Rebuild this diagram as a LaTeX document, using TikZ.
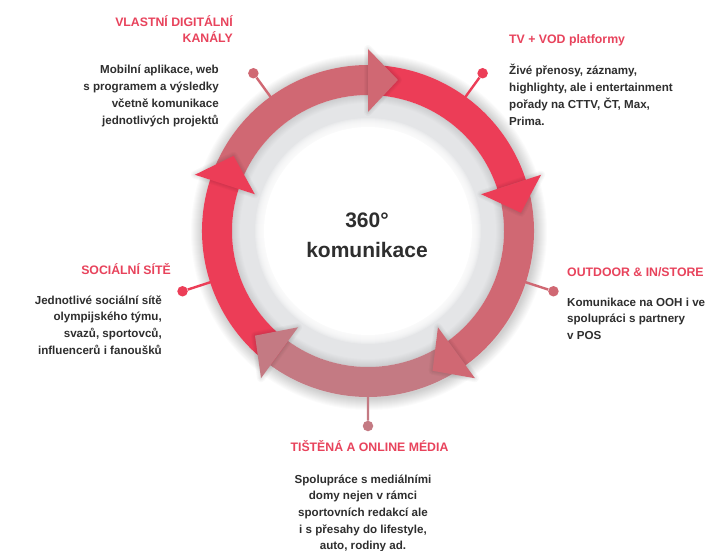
\documentclass[tikz,border=0pt]{standalone}
\usepackage{fontspec}
\setmainfont{Liberation Sans}
\definecolor{cred}{HTML}{EC3D57}
\definecolor{cpink}{HTML}{D06873}
\definecolor{cmauve}{HTML}{C47A83}
\definecolor{ctitle}{HTML}{E8435C}
\definecolor{ctext}{HTML}{2E2E2E}
\definecolor{cband}{HTML}{E4E5E7}
\newcommand{\rblock}[1]{\begin{tabular}[t]{@{}r@{}}#1\end{tabular}}
\newcommand{\lblock}[1]{\begin{tabular}[t]{@{}l@{}}#1\end{tabular}}
\newcommand{\cblock}[1]{\begin{tabular}[t]{@{}c@{}}#1\end{tabular}}
\tikzset{
  titletext/.style={inner sep=0pt, text=ctitle, font=\fontsize{12.3}{16}\selectfont\bfseries},
  bodytext/.style={inner sep=0pt, text=ctext, font=\fontsize{11.6}{16.7}\selectfont\bfseries},
  centertext/.style={inner sep=0pt, text=ctext, font=\fontsize{21}{30}\selectfont\bfseries},
  pindot/.style={circle, inner sep=0pt, minimum size=10.5pt},
  pinline/.style={line width=2.4pt},
}
\begin{document}
\begin{tikzpicture}[x=1pt,y=1pt]
\useasboundingbox (0,0) rectangle (713,-551);
\fill[white] (0,0) rectangle (713,-551);
\begin{scope}[shift={(368,-231)}]
  % outer soft shadow
  \foreach \i in {1,...,12} \fill[black, opacity=0.016] (1,-1) circle[radius=166+\i];
  % grey band
  \fill[cband] (0,0) circle[radius=166];
  \foreach \i in {1,...,8} \fill[black, opacity=0.013, even odd rule] (0,0) circle[radius=136] circle[radius=136-\i];
  % white disc with soft edge
  \foreach \i in {1,...,9} \fill[white, opacity=0.2] (0,0) circle[radius=104+\i];
  \fill[white] (0,0) circle[radius=104];
  % pins
  \foreach \k/\col in {0/cpink,1/cred,2/cpink,3/cmauve,4/cred} {
    \begin{scope}[rotate=-72*\k]
      \coordinate (r\k) at (126:165);
      \node[pindot, fill=\col] (d\k) at (126:195) {};
      \draw[pinline, \col] (r\k) -- (d\k);
    \end{scope}
  }
  % ring bodies
  \foreach \k/\col in {0/cpink,1/cred,2/cpink,3/cmauve,4/cred} {
    \begin{scope}[rotate=-72*\k]
      \fill[\col] (162:166) arc[start angle=162, end angle=89, radius=166]
        -- (89:136) arc[start angle=89, end angle=162, radius=136] -- cycle;
    \end{scope}
  }
  % arrowhead shadows
  \foreach \k in {0,...,4} {
    \begin{scope}[rotate=-72*\k]
      \foreach \w in {2,4,6,8}
        \draw[black, opacity=0.025, line width=\w pt, line join=round] (90:119) -- (90:182) -- (78.8:154) -- cycle;
    \end{scope}
  }
  % arrowheads
  \foreach \k/\col in {0/cpink,1/cred,2/cpink,3/cmauve,4/cred} {
    \begin{scope}[rotate=-72*\k]
      \fill[\col] (90:119) -- (90:182) -- (78.8:154) -- cycle;
    \end{scope}
  }
\end{scope}
% centre text
\node[centertext, anchor=base] (ctr) at (367,-227) {\cblock{360°\\komunikace}};
% top-left
\node[titletext, anchor=base east] (tlT) at (233,-27) {\rblock{VLASTNÍ DIGITÁLNÍ\\KANÁLY}};
\node[bodytext, anchor=base east] (tlB) at (219,-74) {\rblock{Mobilní aplikace, web\\s programem a výsledky\ \\včetně komunikace\\jednotlivých projektů}};
% top-right
\node[titletext, anchor=base west] (trT) at (509,-44) {\lblock{TV + VOD platformy}};
\node[bodytext, anchor=base west] (trB) at (509,-75) {\lblock{Živé přenosy, záznamy,\\highlighty, ale i entertainment\\pořady na CTTV, ČT, Max,\\Prima.}};
% left
\node[titletext, anchor=base east] (lT) at (171,-274) {\rblock{SOCIÁLNÍ SÍTĚ}};
\node[bodytext, anchor=base east] (lB) at (162,-304) {\rblock{Jednotlivé sociální sítě\\olympijského týmu,\\svazů, sportovců,\\influencerů i fanoušků}};
% right
\node[titletext, anchor=base west] (rT) at (567,-276) {\lblock{OUTDOOR \& IN/STORE}};
\node[bodytext, anchor=base west] (rB) at (567,-306) {\lblock{Komunikace na OOH i ve\\spolupráci s partnery\\v POS}};
% bottom
\node[titletext, anchor=base] (bT) at (369.5,-451) {\cblock{TIŠTĚNÁ A ONLINE MÉDIA}};
\node[bodytext, anchor=base] (bB) at (363,-483) {\cblock{Spolupráce s mediálními\\domy nejen v rámci\\sportovních redakcí ale\\i s přesahy do lifestyle,\\auto, rodiny ad.}};
\end{tikzpicture}
\end{document}
